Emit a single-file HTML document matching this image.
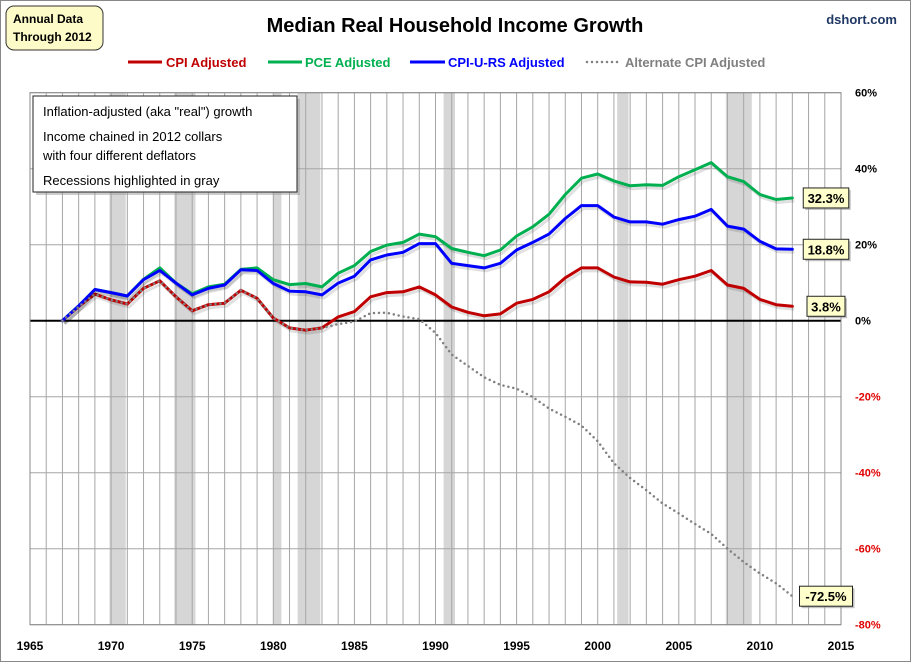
<!DOCTYPE html>
<html><head><meta charset="utf-8"><style>
body{margin:0;background:#fff;}
#wrap{position:relative;width:911px;height:662px;overflow:hidden;font-family:"Liberation Sans",sans-serif;}
svg text{font-family:"Liberation Sans",sans-serif;}
</style></head><body>
<div id="wrap">
<svg id="chart" width="911" height="662">
<rect x="0.5" y="0.5" width="910" height="661" fill="#fff" stroke="#888"/>
<g id="bands"></g>
<g id="grid"></g>
<g id="series"></g>
<g id="axes"></g>
<text x="455" y="32" text-anchor="middle" font-size="20" font-weight="bold" fill="#000">Median Real Household Income Growth</text>
<text x="897" y="24" text-anchor="end" font-size="13" font-weight="bold" fill="#1f3864">dshort.com</text>
<g>
<rect x="6" y="6" width="97" height="44" rx="8" fill="#fdfbc7" stroke="#333" stroke-width="1"/>
<text x="13" y="23" font-size="12" font-weight="bold" fill="#000">Annual Data</text>
<text x="13" y="41" font-size="12" font-weight="bold" fill="#000">Through 2012</text>
</g>
<g>
<g><line x1="128" y1="62" x2="162" y2="62" stroke="#c00000" stroke-width="3"/><text x="166" y="67" font-size="13" font-weight="bold" fill="#c00000">CPI Adjusted</text></g>
<g><line x1="268" y1="62" x2="302" y2="62" stroke="#00b050" stroke-width="3"/><text x="305" y="67" font-size="13" font-weight="bold" fill="#00b050">PCE Adjusted</text></g>
<g><line x1="410" y1="62" x2="445" y2="62" stroke="#0000ff" stroke-width="3"/><text x="448" y="67" font-size="13" font-weight="bold" fill="#0000ff">CPI-U-RS Adjusted</text></g>
<g><line x1="587" y1="62" x2="620" y2="62" stroke="#808080" stroke-width="2.5" stroke-dasharray="0,5" stroke-linecap="round"/><text x="625" y="67" font-size="13" font-weight="bold" fill="#808080">Alternate CPI Adjusted</text></g>
</g>
<g>
<rect x="36" y="99" width="264" height="96" fill="#999" opacity="0.5"/>
<rect x="33" y="96" width="264" height="96" fill="#fff" stroke="#222"/>
<text x="43" y="116" font-size="13" fill="#000">Inflation-adjusted (aka "real") growth</text>
<text x="43" y="141" font-size="13" fill="#000">Income chained in 2012 collars</text>
<text x="43" y="160" font-size="13" fill="#000">with four different deflators</text>
<text x="43" y="185" font-size="13" fill="#000">Recessions highlighted in gray</text>
</g>
<g id="labels"></g>
</svg>
</div>
<script>
const years = [];
for (let y = 1967; y <= 2012; y++) years.push(y);
const cpi = [0,3.7,7.0,5.5,4.4,8.5,10.5,6.3,2.6,4.2,4.6,8.0,5.9,0.7,-1.9,-2.5,-1.9,1.0,2.4,6.3,7.4,7.6,8.9,6.8,3.6,2.2,1.3,1.8,4.6,5.6,7.6,11.3,13.9,13.9,11.5,10.2,10.1,9.6,10.8,11.7,13.2,9.4,8.5,5.6,4.2,3.8];
const pce = [0,3.9,8.2,7.4,6.5,10.9,13.9,9.9,7.1,8.9,9.6,13.5,13.9,10.8,9.5,9.8,8.9,12.5,14.5,18.2,19.9,20.6,22.8,22.1,19.0,18.0,17.1,18.6,22.3,24.7,28.0,33.2,37.5,38.6,36.8,35.5,35.8,35.6,37.9,39.7,41.6,37.9,36.6,33.2,31.9,32.3];
const cpiurs = [0,3.9,8.2,7.4,6.5,10.8,13.2,9.9,6.8,8.5,9.4,13.4,13.2,9.8,7.8,7.6,6.8,9.9,11.7,16.0,17.3,18.0,20.3,20.3,15.1,14.5,13.9,15.1,18.6,20.6,22.8,26.9,30.3,30.3,27.3,26.0,26.0,25.4,26.6,27.5,29.3,24.9,24.1,20.9,18.9,18.8];
const altcpi = [0,3.7,7.0,5.5,4.4,8.5,10.5,6.3,2.6,4.2,4.6,8.0,5.9,0.7,-1.9,-2.5,-1.9,-0.9,-0.2,2.0,2.1,1.1,0.4,-3.2,-8.9,-11.9,-14.9,-16.9,-17.9,-20.1,-23.1,-25.3,-27.6,-31.7,-37.5,-41.4,-44.6,-48.1,-50.7,-53.5,-56.1,-60.0,-63.5,-66.5,-69.1,-72.5];
const recessionStarts = [1969.9,1973.9,1980.0,1981.5,1990.5,2001.2,2007.9];
const recessionEnds = [1970.9,1975.2,1980.5,1982.9,1991.2,2001.9,2009.5];
const xTicks = [1965,1970,1975,1980,1985,1990,1995,2000,2005,2010,2015];
const yTicks = [60,40,20,0,-20,-40,-60,-80];
const endLabels = ["32.3%","18.8%","3.8%","-72.5%"];

const NS = "http://www.w3.org/2000/svg";
const X0 = 30, X1 = 841, Y0 = 92.7, Y1 = 624.7;
const xScale = y => X0 + (y - 1965) / 50 * (X1 - X0);
const yScale = v => Y0 + (60 - v) / 140 * (Y1 - Y0);
function mk(tag, attrs, parent) {
  const e = document.createElementNS(NS, tag);
  for (const k in attrs) e.setAttribute(k, attrs[k]);
  parent.appendChild(e);
  return e;
}
const bands = document.getElementById('bands');
recessionStarts.forEach((s, i) => {
  const r = mk('rect', {x: xScale(s), y: Y0, width: xScale(recessionEnds[i]) - xScale(s), height: Y1 - Y0, fill: '#d6d6d6'}, bands);
  
  
});
const grid = document.getElementById('grid');
for (let y = 1965; y <= 2015; y++) {
  const l = mk('line', {x1: xScale(y), x2: xScale(y), y1: Y0, y2: Y1, stroke: '#a6a6a6', 'stroke-width': 1}, grid);
  
  
}
yTicks.forEach(v => {
  const l = mk('line', {x1: X0, x2: X1, y1: yScale(v), y2: yScale(v), stroke: v === 0 ? '#000' : '#a6a6a6', 'stroke-width': v === 0 ? 2 : 1}, grid);
  
  
});
const frame = mk('rect', {x: X0, y: Y0, width: X1 - X0, height: Y1 - Y0, fill: 'none', stroke: '#888'}, grid);



const axes = document.getElementById('axes');
xTicks.forEach(t => {
  const tx = mk('text', {x: xScale(t), y: 650, 'text-anchor': 'middle', 'font-size': 12, 'font-weight': 'bold', fill: '#000'}, axes);
  tx.textContent = t;
  
  
});
yTicks.forEach(v => {
  const tx = mk('text', {x: 855, y: yScale(v) + 4, 'font-size': 11, 'font-weight': 'bold', fill: v < 0 ? '#e00000' : '#000'}, axes);
  tx.textContent = v + '%';
  
  
});

const series = document.getElementById('series');
function pts(arr) { return arr.map((v, i) => xScale(years[i]).toFixed(1) + ',' + yScale(v).toFixed(1)).join(' '); }
const defs = [
  {d: cpi, c: '#c00000', n: 'cpi-line', w: 3},
  {d: pce, c: '#00b050', n: 'pce-line', w: 3},
  {d: cpiurs, c: '#0000ff', n: 'cpi-u-rs-line', w: 3},
  {d: altcpi, c: '#808080', dash: '0,5', n: 'alternate-cpi-line', w: 2.5}
];
defs.forEach(s => {
  if (!s.dash) {
    const sh = mk('polyline', {points: pts(s.d), fill: 'none', stroke: '#000', 'stroke-opacity': 0.12, 'stroke-width': s.w, transform: 'translate(2,3)'}, series);
    
    
  }
  const p = mk('polyline', {points: pts(s.d), fill: 'none', stroke: s.c, 'stroke-width': s.w, 'stroke-linejoin': 'round', 'stroke-linecap': 'round', 'stroke-dasharray': s.dash || 'none'}, series);
  
  
});
const labels = document.getElementById('labels');
const lastVals = [pce[pce.length-1], cpiurs[cpiurs.length-1], cpi[cpi.length-1], altcpi[altcpi.length-1]];
lastVals.forEach((v, i) => {
  const txt = endLabels[i];
  const w = txt.length * 7.5 + 8;
  const cx = 826;
  const cy = yScale(v);
  const g = mk('g', {}, labels);
  
  
  mk('rect', {x: cx - w/2 + 2, y: cy - 10 + 2, width: w, height: 20, fill: '#999', opacity: 0.6}, g);
  mk('rect', {x: cx - w/2, y: cy - 10, width: w, height: 20, fill: '#ffffcc', stroke: '#222'}, g);
  const t = mk('text', {x: cx, y: cy + 5, 'text-anchor': 'middle', 'font-size': 13, 'font-weight': 'bold', fill: '#000'}, g);
  t.textContent = txt;
});
</script>
</body></html>
